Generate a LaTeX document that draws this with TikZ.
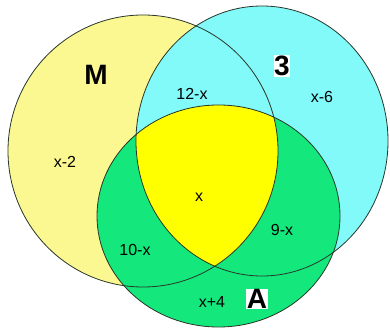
\documentclass[tikz,border=0pt]{standalone}
\usepackage{fontspec}
\setmainfont{Liberation Sans}
\definecolor{paleyellow}{RGB}{252,248,145}
\definecolor{skycyan}{RGB}{130,250,250}
\definecolor{setgreen}{RGB}{20,232,125}
\definecolor{brightyellow}{RGB}{255,255,0}
\definecolor{linec}{RGB}{40,55,40}
\begin{document}
\begin{tikzpicture}[x=1pt,y=-1pt,
  outline/.style={draw=linec, line width=0.8pt},
  num/.style={font=\fontsize{16}{16}\selectfont, inner sep=0pt, text=black},
  setlabel/.style={font=\fontsize{28}{28}\selectfont\bfseries, inner sep=0.6pt, text=black}]
\fill[white] (0,0) rectangle (390,328);
\useasboundingbox (0,0) rectangle (390,328);
\coordinate (cM) at (143,151);
\coordinate (cT) at (262,141);
\coordinate (cA) at (218.5,216);
% fills
\fill[paleyellow] (cM) ellipse [x radius=135pt, y radius=136pt];
\fill[skycyan] (cT) ellipse [x radius=126pt, y radius=135pt];
\fill[setgreen] (cA) ellipse [x radius=121.5pt, y radius=111pt];
\begin{scope}
  \clip (cM) ellipse [x radius=135pt, y radius=136pt];
  \clip (cT) ellipse [x radius=126pt, y radius=135pt];
  \fill[brightyellow] (cA) ellipse [x radius=121.5pt, y radius=111pt];
\end{scope}
% outlines
\draw[outline] (cM) ellipse [x radius=135pt, y radius=136pt];
\draw[outline] (cT) ellipse [x radius=126pt, y radius=135pt];
\draw[outline] (cA) ellipse [x radius=121.5pt, y radius=111pt];
% labels
\node[setlabel] (lM) at (96,75) {M};
\node[setlabel, fill=white] (lT) at (282,66) {3};
\node[setlabel, fill=white] (lA) at (257,299) {A};
\node[num] (n12) at (192,94) {12-x};
\node[num] (nx6) at (322,97) {x-6};
\node[num] (nx2) at (65,162) {x-2};
\node[num] (nx) at (199,197) {x};
\node[num] (n10) at (135,250) {10-x};
\node[num] (n9) at (282,230) {9-x};
\node[num] (nx4) at (212,302) {x+4};
\end{tikzpicture}
\end{document}
